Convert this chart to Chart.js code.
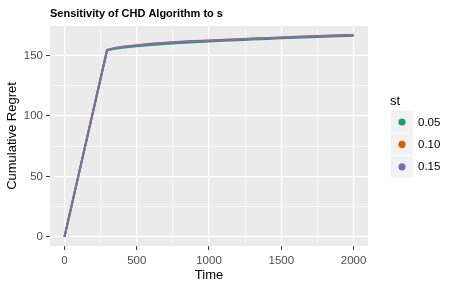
<!DOCTYPE html>
<html>
<head>
<meta charset="utf-8">
<script src="https://cdn.jsdelivr.net/npm/chart.js@4/dist/chart.umd.min.js"></script>
<style>
  html, body { margin: 0; padding: 0; background: #fff; }
  #wrap { width: 454px; height: 289px; }
</style>
</head>
<body>
<div id="wrap"><canvas id="regretChart" width="454" height="289"></canvas></div>
<script>
// data
const time = [0, 100, 200, 295, 350, 400, 500, 600, 700, 800, 900, 1000, 1100, 1200, 1300, 1400, 1500, 1600, 1700, 1800, 1900, 2000];
const st005 = [0, 52.4, 104.7, 154.3, 155.4, 156.3, 157.6, 158.6, 159.4, 160.2, 160.9, 161.5, 162.1, 162.6, 163.1, 163.6, 164.1, 164.6, 165.1, 165.5, 165.9, 166.2];
const st010 = [0, 52.4, 104.7, 154.6, 156.2, 157.1, 158.5, 159.6, 160.4, 161.2, 161.9, 162.4, 162.9, 163.4, 163.9, 164.4, 164.9, 165.4, 165.8, 166.2, 166.6, 166.9];
const st015 = [0, 52.4, 104.7, 154.5, 156.0, 156.9, 158.3, 159.4, 160.2, 161.0, 161.7, 162.2, 162.7, 163.2, 163.7, 164.2, 164.7, 165.2, 165.6, 166.0, 166.4, 166.7];
const seriesNames = ["0.05", "0.10", "0.15"];
const xTicks = [0, 250, 500, 750, 1000, 1250, 1500, 1750, 2000];
const yTicks = [0, 25, 50, 75, 100, 125, 150];

const FONT = '"Liberation Sans", Arial, sans-serif';
const colors = ["#1B9E77", "#D95F02", "#7570B3"];

const pts = (ys) => ys.map((y, i) => ({ x: time[i], y: y }));

const ggPanel = {
  id: "ggPanel",
  beforeDraw: (chart) => {
    const { ctx, chartArea: a } = chart;
    ctx.save();
    ctx.fillStyle = "#EBEBEB";
    ctx.fillRect(a.left, a.top, a.right - a.left, a.bottom - a.top);
    ctx.restore();
  },
  afterDraw: (chart) => {
    const ctx = chart.ctx;
    ctx.save();
    // title
    ctx.fillStyle = "#000";
    ctx.font = "bold 11px " + FONT;
    ctx.textBaseline = "middle";
    ctx.fillText("Sensitivity of CHD Algorithm to s", 50, 14);
    // legend
    ctx.font = "13px " + FONT;
    ctx.fillText("st", 390, 101);
    ctx.font = "11.5px " + FONT;
    chart.data.datasets.forEach((ds, i) => {
      const top = 111 + i * 22.4;
      ctx.fillStyle = "#F2F2F2";
      ctx.fillRect(391, top, 22, 21.5);
      ctx.fillStyle = ds.borderColor;
      ctx.beginPath();
      ctx.arc(402, top + 11, 3.6, 0, Math.PI * 2);
      ctx.fill();
      ctx.fillStyle = "#000";
      ctx.fillText(ds.label, 418, top + 11.5);
    });
    ctx.restore();
  },
};

const isMajorX = (v) => v % 500 === 0;
const isMajorY = (v) => v % 50 === 0;

new Chart(document.getElementById("regretChart"), {
  type: "line",
  data: {
    datasets: [st005, st010, st015].map((ys, i) => ({
      label: seriesNames[i],
      data: pts(ys),
      borderColor: colors[i],
      backgroundColor: colors[i],
      borderWidth: 2,
      pointRadius: 0,
      tension: 0,
      order: 2 - i,
    })),
  },
  options: {
    responsive: false,
    animation: false,
    layout: { padding: { top: 26, right: 86, left: 0, bottom: 0 } },
    plugins: {
      legend: { display: false },
      tooltip: { enabled: false },
    },
    scales: {
      x: {
        type: "linear",
        min: -100,
        max: 2100,
        afterBuildTicks: (s) => { s.ticks = xTicks.map((v) => ({ value: v })); },
        afterFit: (s) => { s.height = 43; },
        border: { display: false },
        grid: {
          color: "#FFFFFF",
          lineWidth: (c) => (isMajorX(c.tick.value) ? 1.1 : 0.55),
          tickColor: (c) => (isMajorX(c.tick.value) ? "#333333" : "rgba(0,0,0,0)"),
          tickLength: 4,
          tickWidth: 1,
        },
        ticks: {
          autoSkip: false,
          maxRotation: 0,
          padding: 4,
          color: "#4D4D4D",
          font: { family: FONT, size: 11.5 },
          callback: (v) => (isMajorX(v) ? String(v) : ""),
        },
        title: {
          display: true,
          text: "Time",
          color: "#000",
          font: { family: FONT, size: 13 },
          padding: { top: 0, bottom: 6 },
        },
      },
      y: {
        type: "linear",
        min: -7.4,
        max: 174.3,
        afterBuildTicks: (s) => { s.ticks = yTicks.map((v) => ({ value: v })); },
        afterFit: (s) => { s.width = 50; },
        border: { display: false },
        grid: {
          color: "#FFFFFF",
          lineWidth: (c) => (isMajorY(c.tick.value) ? 1.1 : 0.55),
          tickColor: (c) => (isMajorY(c.tick.value) ? "#333333" : "rgba(0,0,0,0)"),
          tickLength: 4,
          tickWidth: 1,
        },
        ticks: {
          autoSkip: false,
          padding: 3,
          color: "#4D4D4D",
          font: { family: FONT, size: 11.5 },
          callback: (v) => (isMajorY(v) ? String(v) : ""),
        },
        title: {
          display: true,
          text: "Cumulative Regret",
          color: "#000",
          font: { family: FONT, size: 13 },
          padding: { top: 5, bottom: 0 },
        },
      },
    },
  },
  plugins: [ggPanel],
});
</script>
</body>
</html>
